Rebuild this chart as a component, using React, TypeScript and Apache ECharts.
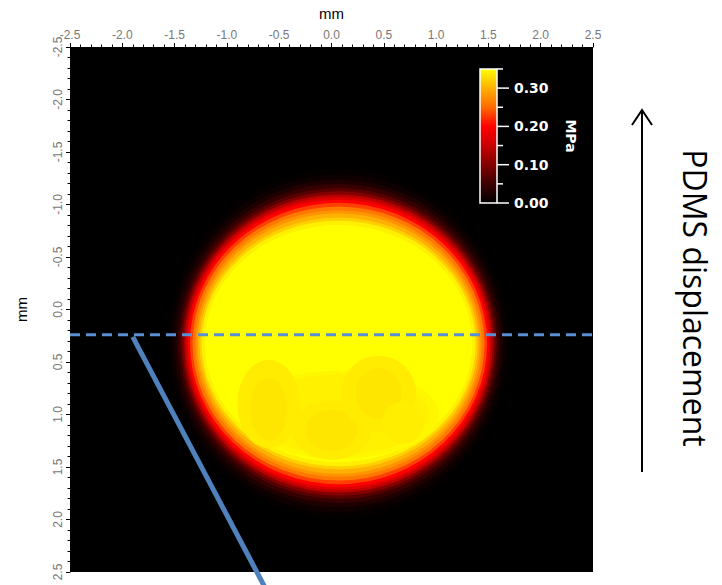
import React, { useEffect, useRef } from "react";
import * as echarts from "echarts";

// ---- axes (mm) ----
const AXIS_MIN = -2.5;
const AXIS_MAX = 2.5;
const AXIS_STEP = 0.5;

// ---- pressure field (MPa) as filled contours of the contact disk ----
const DISK_CENTER_X = 0.067;
const DISK_CENTER_Y = 0.324;
// contour level and its half-widths (mm), from outermost to innermost
const CONTOUR_LEVELS = [0.004, 0.012, 0.025, 0.045, 0.07, 0.1, 0.14, 0.17, 0.2, 0.23, 0.26, 0.28, 0.3, 0.32, 0.34, 0.35];
const CONTOUR_RX = [1.64, 1.6, 1.57, 1.54, 1.515, 1.495, 1.475, 1.455, 1.44, 1.42, 1.395, 1.37, 1.35, 1.33, 1.31, 1.28];
const CONTOUR_RY = [1.67, 1.61, 1.56, 1.52, 1.48, 1.45, 1.42, 1.395, 1.37, 1.34, 1.305, 1.27, 1.24, 1.2, 1.17, 1.13];

// slightly lower-pressure patches inside the lower half of the disk
const PATCH_LEVELS = [0.345, 0.341, 0.338, 0.334, 0.338, 0.334, 0.338, 0.334, 0.339];
const PATCH_X = [0.08, 0.08, -0.6, -0.6, 0.0, 0.0, 0.45, 0.45, 0.68];
const PATCH_Y = [1.0, 1.0, 0.9, 0.95, 1.15, 1.15, 0.8, 0.8, 1.08];
const PATCH_RX = [0.95, 0.85, 0.3, 0.18, 0.38, 0.25, 0.36, 0.22, 0.2];
const PATCH_RY = [0.42, 0.38, 0.42, 0.3, 0.28, 0.2, 0.36, 0.24, 0.2];

// ---- colour scale ----
const PRESSURE_MAX = 0.35;
const COLOR_SCALE = ["#000000", "#3c0000", "#820000", "#c80000", "#ff0000", "#ff6a00", "#ffb000", "#ffff00"];
const COLORBAR_TICKS = [0, 0.1, 0.2, 0.3];
const COLORBAR_MINOR = [0.05, 0.15, 0.25, 0.35];

// ---- overlay lines (mm) ----
const SCAN_LINE_X = [-2.5, 2.5];
const SCAN_LINE_Y = [0.24, 0.24];
const PROBE_X = [-1.9, -0.64];
const PROBE_Y = [0.26, 2.64];

export default function App() {
  const ref = useRef<HTMLDivElement>(null);

  useEffect(() => {
    if (!ref.current) return;
    const chart = echarts.init(ref.current, null, { renderer: "svg" });

    const fieldData: number[][] = [
      ...CONTOUR_LEVELS.map((v, i) => [v, DISK_CENTER_X, DISK_CENTER_Y, CONTOUR_RX[i], CONTOUR_RY[i]]),
      ...PATCH_LEVELS.map((v, i) => [v, PATCH_X[i], PATCH_Y[i], PATCH_RX[i], PATCH_RY[i]]),
    ];

    // colour bar layout
    const cbX = 480;
    const cbW = 17;
    const cbY0 = 203;
    const cbScale = 383;
    const cbY = (v: number) => cbY0 - v * cbScale;

    const graphics: any[] = [
      {
        type: "rect",
        z: 100,
        shape: { x: cbX, y: cbY(PRESSURE_MAX), width: cbW, height: PRESSURE_MAX * cbScale },
        style: {
          fill: {
            type: "linear",
            x: 0, y: 1, x2: 0, y2: 0,
            colorStops: COLOR_SCALE.map((c, i) => ({ offset: i / (COLOR_SCALE.length - 1), color: c })),
          },
          stroke: "#ffffff",
          lineWidth: 1.5,
        },
      },
      ...COLORBAR_TICKS.map((v) => ({
        type: "line",
        z: 100,
        shape: { x1: cbX + cbW, y1: cbY(v), x2: cbX + cbW + 12, y2: cbY(v) },
        style: { stroke: "#ffffff", lineWidth: 1.5 },
      })),
      ...COLORBAR_MINOR.map((v) => ({
        type: "line",
        z: 100,
        shape: { x1: cbX + cbW, y1: cbY(v), x2: cbX + cbW + 6, y2: cbY(v) },
        style: { stroke: "#ffffff", lineWidth: 1.5 },
      })),
      ...COLORBAR_TICKS.map((v) => ({
        type: "text",
        z: 100,
        x: cbX + cbW + 17,
        y: cbY(v),
        style: {
          text: v.toFixed(2),
          fill: "#ffffff",
          fontSize: 14,
          fontWeight: "bold",
          fontFamily: "DejaVu Sans",
          textAlign: "left",
          textVerticalAlign: "middle",
        },
      })),
      {
        type: "text",
        z: 100,
        x: 571,
        y: 136,
        rotation: -Math.PI / 2,
        style: {
          text: "MPa",
          fill: "#ffffff",
          fontSize: 14,
          fontWeight: "bold",
          fontFamily: "DejaVu Sans",
          textAlign: "center",
          textVerticalAlign: "middle",
        },
      },
      {
        type: "line",
        z: 100,
        shape: { x1: 642, y1: 472, x2: 642, y2: 110 },
        style: { stroke: "#000000", lineWidth: 2 },
      },
      {
        type: "polyline",
        z: 100,
        shape: { points: [[632, 125], [642, 110], [652, 125]] },
        style: { stroke: "#000000", lineWidth: 2, fill: null },
      },
      {
        type: "text",
        z: 100,
        x: 695,
        y: 298,
        rotation: -Math.PI / 2,
        style: {
          text: "PDMS displacement",
          fill: "#000000",
          fontSize: 32,
          fontFamily: "Open Sans",
          textAlign: "center",
          textVerticalAlign: "middle",
        },
      },
    ];

    const valueAxisCommon = {
      type: "value",
      min: AXIS_MIN,
      max: AXIS_MAX,
      interval: AXIS_STEP,
      nameLocation: "middle",
      nameTextStyle: { color: "#000", fontSize: 15, fontFamily: "Liberation Sans" },
      axisLine: { show: true, onZero: false, lineStyle: { color: "#000", width: 1 } },
      axisTick: { show: true, inside: false, length: 4, lineStyle: { color: "#000", width: 1 } },
      minorTick: { show: true, splitNumber: 5, length: 2.5, lineStyle: { color: "#000", width: 1 } },
      splitLine: { show: false },
      minorSplitLine: { show: false },
    };

    chart.setOption({
      animation: false,
      grid: {
        left: 70,
        top: 47,
        width: 523,
        height: 525,
        show: true,
        backgroundColor: "#000",
        borderWidth: 0,
      },
      xAxis: {
        ...valueAxisCommon,
        position: "top",
        name: "mm",
        nameGap: 26,
        axisLabel: {
          color: "#777",
          fontSize: 12,
          fontFamily: "Liberation Sans",
          margin: 6,
          formatter: (v: number) => v.toFixed(1),
        },
      },
      yAxis: {
        ...valueAxisCommon,
        position: "left",
        inverse: true,
        name: "mm",
        nameGap: 41,
        axisLabel: {
          color: "#777",
          fontSize: 12,
          fontFamily: "Liberation Sans",
          margin: 6,
          rotate: 90,
          formatter: (v: number) => v.toFixed(1),
        },
      },
      visualMap: {
        type: "continuous",
        show: false,
        seriesIndex: 0,
        dimension: 0,
        min: 0,
        max: PRESSURE_MAX,
        inRange: { color: COLOR_SCALE },
      },
      series: [
        {
          type: "custom",
          name: "pressure",
          coordinateSystem: "cartesian2d",
          data: fieldData,
          encode: { x: 1, y: 2 },
          clip: true,
          silent: true,
          renderItem: (params: any, api: any) => {
            const cx = api.value(1);
            const cy = api.value(2);
            const c = api.coord([cx, cy]);
            const s = api.size([api.value(3) * 2, api.value(4) * 2], [cx, cy]);
            const rx = s[0] / 2;
            const ry = s[1] / 2;
            const d =
              `M${c[0] - rx} ${c[1]} ` +
              `A${rx} ${ry} 0 1 0 ${c[0] + rx} ${c[1]} ` +
              `A${rx} ${ry} 0 1 0 ${c[0] - rx} ${c[1]} Z`;
            return {
              type: "path",
              shape: { pathData: d },
              style: { fill: api.visual("color"), stroke: null },
            };
          },
        },
        {
          type: "line",
          data: SCAN_LINE_X.map((x, i) => [x, SCAN_LINE_Y[i]]),
          symbol: "none",
          clip: false,
          z: 5,
          lineStyle: { color: "#5b8fd4", width: 3, type: [10, 6] },
        },
        {
          type: "line",
          data: PROBE_X.map((x, i) => [x, PROBE_Y[i]]),
          symbol: "none",
          clip: false,
          z: 6,
          lineStyle: { color: "#4f81bd", width: 5 },
        },
      ],
      graphic: graphics,
    });

    return () => chart.dispose();
  }, []);

  return (
    <div
      ref={ref}
      style={{ position: "absolute", left: 0, top: 0, width: 722, height: 585, background: "#fff" }}
    />
  );
}
